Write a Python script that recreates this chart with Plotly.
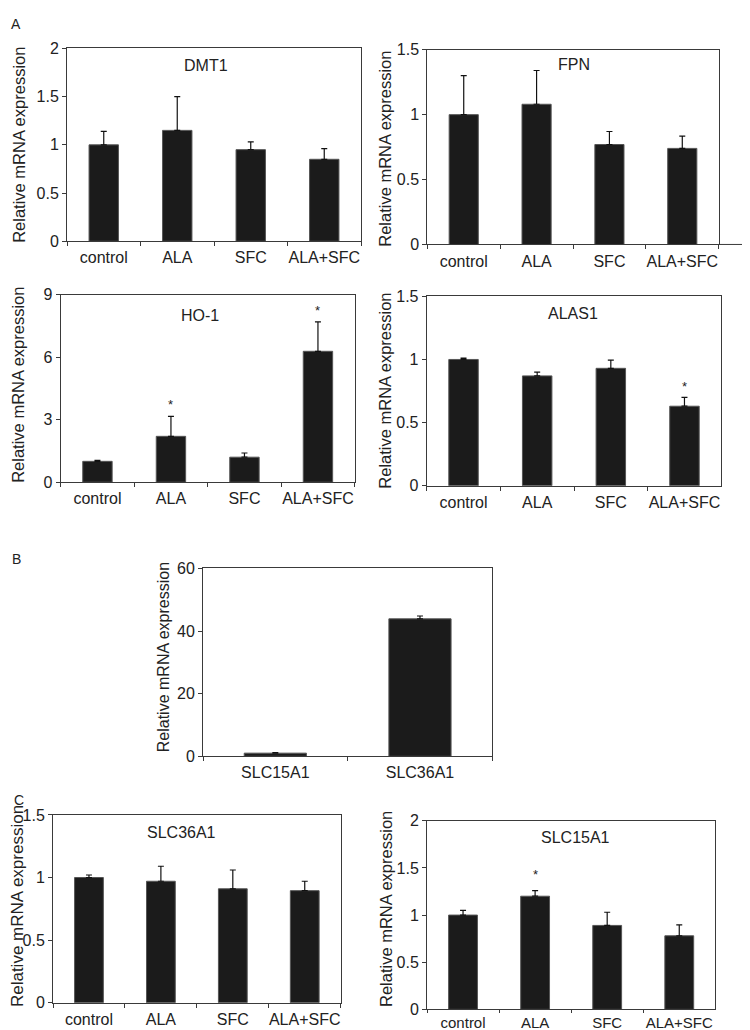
import plotly.graph_objects as go

# ---------------- data ----------------
categories = ["control", "ALA", "SFC", "ALA+SFC"]

dmt1 = [1.0, 1.15, 0.95, 0.85]
dmt1_err = [0.14, 0.35, 0.08, 0.11]

fpn = [1.0, 1.08, 0.77, 0.74]
fpn_err = [0.30, 0.26, 0.10, 0.095]

ho1 = [1.0, 2.2, 1.2, 6.28]
ho1_err = [0.05, 0.96, 0.2, 1.41]
ho1_sig = [False, True, False, True]

alas1 = [1.0, 0.87, 0.93, 0.63]
alas1_err = [0.01, 0.03, 0.065, 0.07]
alas1_sig = [False, False, False, True]

genes_b = ["SLC15A1", "SLC36A1"]
b_vals = [1.0, 43.9]
b_err = [0.2, 0.9]

slc36a1 = [1.0, 0.97, 0.91, 0.895]
slc36a1_err = [0.02, 0.12, 0.15, 0.075]

slc15a1 = [1.0, 1.2, 0.89, 0.78]
slc15a1_err = [0.05, 0.06, 0.14, 0.115]
slc15a1_sig = [False, True, False, False]

ytitle = "Relative mRNA expression"

# ---------------- layout helpers ----------------
W, H = 750, 1030
FONT = "Liberation Sans, Arial, sans-serif"
TXT = "#222222"
AX = "#3a3a3a"


def dx(px):
    return px / W


def dy(py):
    return 1 - py / H


panels = [
    dict(cats=categories, v=dmt1, e=dmt1_err, sig=None, title="DMT1", box=(59, 353, 33, 229),
         yr=2, dt=0.5, bw=0.4, tpos=(198, 50), ypos=(11, 131), ysz=16.5),
    dict(cats=categories, v=fpn, e=fpn_err, sig=None, title="FPN", box=(419.3, 710.7, 34.3, 232.3),
         yr=1.5, dt=0.5, bw=0.4, tpos=(566, 49), ypos=(377, 135), ysz=16.5),
    dict(cats=categories, v=ho1, e=ho1_err, sig=ho1_sig, title="HO-1", box=(52.7, 346.7, 283.3, 474),
         yr=9, dt=3, bw=0.4, tpos=(192, 305), ypos=(10, 375), ysz=16.5, sshift=2),
    dict(cats=categories, v=alas1, e=alas1_err, sig=alas1_sig, title="ALAS1", box=(418.7, 713.3, 285, 477.7),
         yr=1.5, dt=0.5, bw=0.4, tpos=(565, 303), ypos=(377, 381), ysz=16.5, sshift=1),
    dict(cats=genes_b, v=b_vals, e=b_err, sig=None, title=None, box=(195, 484.3, 561.7, 752.7),
         yr=60, dt=20, bw=0.43, tpos=None, ypos=(155, 652), ysz=16),
    dict(cats=categories, v=slc36a1, e=slc36a1_err, sig=None, title="SLC36A1", box=(45, 332.7, 812.3, 1003.3),
         yr=1.5, dt=0.5, bw=0.4, tpos=(173, 830), ypos=(9, 905), ysz=17),
    dict(cats=categories, v=slc15a1, e=slc15a1_err, sig=slc15a1_sig, title="SLC15A1", box=(419, 707.3, 818.3, 1010),
         yr=2, dt=0.5, bw=0.4, tpos=(567, 835), ypos=(378, 908), ysz=16.5, sshift=7,
         standoff=0, xtlen=3, xfs=15),
]

fig = go.Figure()
annotations = []
layout = dict(
    width=W, height=H,
    margin=dict(l=0, r=0, t=0, b=0),
    paper_bgcolor="white", plot_bgcolor="white",
    showlegend=False,
    font=dict(family=FONT, size=15, color=TXT),
)

for i, p in enumerate(panels, start=1):
    xa = "x" if i == 1 else f"x{i}"
    ya = "y" if i == 1 else f"y{i}"
    x0, x1, yt, yb = p["box"]
    fig.add_trace(go.Bar(
        x=p["cats"], y=p["v"], xaxis=xa, yaxis=ya, width=p["bw"],
        marker=dict(color="#1b1b1b", line=dict(color="#555555", width=1)),
        error_y=dict(type="data", array=p["e"], arrayminus=[0] * len(p["e"]), symmetric=False,
                     color="#111111", thickness=1.2, width=3),
        hoverinfo="skip",
    ))
    layout[f"xaxis{'' if i == 1 else i}"] = dict(
        domain=[dx(x0), dx(x1)], anchor=ya, type="category",
        showline=True, linecolor=AX, linewidth=1, mirror=True,
        ticks="outside", tickson="boundaries", ticklen=p.get("xtlen", 4), tickcolor=AX,
        tickangle=0, ticklabelstandoff=p.get("standoff", 2),
        showgrid=False, zeroline=False, tickfont=dict(size=p.get("xfs", 16), color=TXT),
    )
    layout[f"yaxis{'' if i == 1 else i}"] = dict(
        domain=[dy(yb), dy(yt)], anchor=xa, range=[0, p["yr"]], dtick=p["dt"],
        showline=True, linecolor=AX, linewidth=1, mirror=True,
        ticks="outside", ticklen=4, tickcolor=AX,
        showgrid=False, zeroline=False, tickfont=dict(size=16, color=TXT),
    )
    if p["title"]:
        annotations.append(dict(text=p["title"], xref="paper", yref="paper",
                                x=dx(p["tpos"][0]), y=dy(p["tpos"][1]), showarrow=False,
                                xanchor="center", yanchor="middle", font=dict(size=16, color=TXT)))
    annotations.append(dict(text=ytitle, xref="paper", yref="paper", textangle=-90,
                            x=dx(p["ypos"][0]), y=dy(p["ypos"][1]), showarrow=False,
                            xanchor="center", yanchor="middle", font=dict(size=p["ysz"], color=TXT)))
    if p["sig"]:
        for c, v, e, s in zip(p["cats"], p["v"], p["e"], p["sig"]):
            if s:
                annotations.append(dict(text="*", xref=xa, yref=ya, x=c, y=v + e, showarrow=False,
                                        xanchor="center", yanchor="bottom", yshift=p.get("sshift", 0),
                                        font=dict(size=13, color=TXT)))

# panel letters
for letter, (px, py) in {"A": (8, 8), "B": (8, 552), "C": (11, 797)}.items():
    annotations.append(dict(text=letter, xref="paper", yref="paper", x=dx(px), y=dy(py),
                            showarrow=False, xanchor="center", yanchor="middle",
                            font=dict(size=14, color=TXT)))

layout["annotations"] = annotations
# extension of the FPN baseline to the right edge
layout["shapes"] = [dict(type="line", xref="paper", yref="paper",
                         x0=dx(710.7), x1=1.0, y0=dy(232.3), y1=dy(232.3),
                         line=dict(color=AX, width=1))]

fig.update_layout(**layout)
fig.write_html("out.html")
